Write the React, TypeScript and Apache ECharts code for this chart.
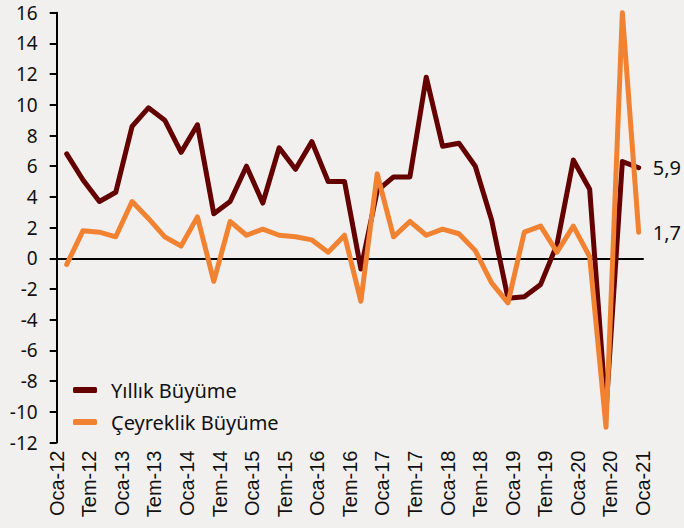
import React, { useEffect, useRef } from "react";
import * as echarts from "echarts";

// Quarters 2012Q1 .. 2020Q4
const quarters: string[] = [];
for (let y = 2012; y <= 2020; y++) for (let q = 1; q <= 4; q++) quarters.push(`${y}Q${q}`);

const tickLabels = [
  "Oca-12", "Tem-12", "Oca-13", "Tem-13", "Oca-14", "Tem-14", "Oca-15", "Tem-15",
  "Oca-16", "Tem-16", "Oca-17", "Tem-17", "Oca-18", "Tem-18", "Oca-19", "Tem-19",
  "Oca-20", "Tem-20", "Oca-21",
];

const annualGrowth = [
  6.8, 5.1, 3.7, 4.3, 8.6, 9.8, 9.0, 6.9, 8.7, 2.9, 3.7, 6.0,
  3.6, 7.2, 5.8, 7.6, 5.0, 5.0, -0.7, 4.4, 5.3, 5.3, 11.8, 7.3,
  7.5, 6.0, 2.5, -2.6, -2.5, -1.7, 0.9, 6.4, 4.5, -9.9, 6.3, 5.9,
];

const quarterlyGrowth = [
  -0.4, 1.8, 1.7, 1.4, 3.7, 2.6, 1.4, 0.8, 2.7, -1.5, 2.4, 1.5,
  1.9, 1.5, 1.4, 1.2, 0.4, 1.5, -2.8, 5.5, 1.4, 2.4, 1.5, 1.9,
  1.6, 0.5, -1.6, -2.9, 1.7, 2.1, 0.4, 2.1, 0.1, -11.0, 16.0, 1.7,
];

const seriesNames = ["Yıllık Büyüme", "Çeyreklik Büyüme"];
const DARK = "#640000";
const ORANGE = "#F08232";
const BG = "#F1F0EE";

export default function App() {
  const ref = useRef<HTMLDivElement>(null);
  useEffect(() => {
    if (!ref.current) return;
    const chart = echarts.init(ref.current, undefined, { renderer: "svg" });
    const fmt = (p: any) => String(p.value).replace(".", ",");
    chart.setOption({
      animation: false,
      backgroundColor: BG,
      grid: [
        { left: 66.7, right: 45.3, top: 12.7, bottom: 85.5 },
        { left: 56.7, right: 41, top: 12.7, bottom: 85.5 },
      ],
      legend: {
        orient: "vertical",
        left: 68,
        top: 375,
        itemWidth: 24,
        itemHeight: 6,
        itemGap: 12,
        icon: "roundRect",
        data: seriesNames,
        textStyle: {
          fontFamily: "Noto Sans",
          fontSize: 20,
          color: "#111",
          padding: [0, 0, 0, 9],
        },
      },
      xAxis: [
        {
          gridIndex: 0,
          type: "category",
          data: quarters,
          boundaryGap: false,
          show: false,
        },
        {
          gridIndex: 1,
          type: "category",
          data: tickLabels,
          boundaryGap: false,
          position: "bottom",
          axisLine: { show: false, onZero: false },
          axisTick: { show: false },
          axisLabel: {
            interval: 0,
            rotate: 90,
            margin: 8,
            fontFamily: "Liberation Sans",
            fontSize: 20,
            color: "#111",
          },
          splitLine: { show: false },
        },
        {
          gridIndex: 1,
          type: "category",
          data: tickLabels,
          boundaryGap: false,
          position: "top",
          axisLine: { show: true, onZero: true, lineStyle: { color: "#000", width: 2 } },
          axisTick: { show: false },
          axisLabel: { show: false },
          splitLine: { show: false },
        },
      ],
      yAxis: [
        { gridIndex: 0, type: "value", min: -12, max: 16, interval: 2, show: false },
        {
          gridIndex: 1,
          type: "value",
          min: -12,
          max: 16,
          interval: 2,
          axisLine: { show: true, onZero: false, lineStyle: { color: "#000", width: 2 } },
          axisTick: { show: true, length: 7, lineStyle: { color: "#000", width: 2 } },
          axisLabel: {
            margin: 19,
            fontFamily: "Noto Sans",
            fontSize: 19,
            color: "#111",
          },
          splitLine: { show: false },
        },
      ],
      series: [
        {
          name: seriesNames[0],
          type: "line",
          xAxisIndex: 0,
          yAxisIndex: 0,
          data: annualGrowth,
          showSymbol: false,
          clip: false,
          color: DARK,
          lineStyle: { width: 5, color: DARK, cap: "round", join: "round" },
          endLabel: {
            show: true,
            formatter: fmt,
            distance: 14,
            fontFamily: "Noto Sans",
            fontSize: 20,
            color: "#111",
          },
          z: 2,
        },
        {
          name: seriesNames[1],
          type: "line",
          xAxisIndex: 0,
          yAxisIndex: 0,
          data: quarterlyGrowth,
          showSymbol: false,
          clip: false,
          color: ORANGE,
          lineStyle: { width: 5, color: ORANGE, cap: "round", join: "round" },
          endLabel: {
            show: true,
            formatter: fmt,
            distance: 14,
            fontFamily: "Noto Sans",
            fontSize: 20,
            color: "#111",
          },
          z: 3,
        },
      ],
    });
    return () => chart.dispose();
  }, []);
  return (
    <div
      ref={ref}
      style={{ position: "fixed", left: 0, top: 0, width: 684, height: 528, background: BG }}
    />
  );
}
